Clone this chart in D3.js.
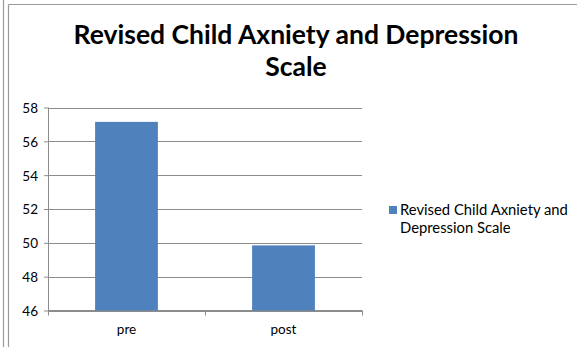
<!DOCTYPE html>
<html>
<head>
<meta charset="utf-8">
<script src="https://cdn.jsdelivr.net/npm/d3@7/dist/d3.min.js"></script>
<style>
  html, body { margin: 0; padding: 0; background: #fff; }
  svg { display: block; }
  text { font-family: Lato, "Open Sans", "DejaVu Sans", sans-serif; fill: #000; }
</style>
</head>
<body>
<svg id="chart" width="577" height="347"></svg>
<script>
// Chart data
const categories = ["pre", "post"];
const seriesName = "Revised Child Axniety and Depression Scale";
const seriesValues = [57.15, 49.85];
const yTicks = [46, 48, 50, 52, 54, 56, 58];
const titleLines = ["Revised Child Axniety and Depression", "Scale"];
const legendLines = ["Revised Child Axniety and", "Depression Scale"];

const svg = d3.select("#chart");
const W = 577, H = 347;
const plot = { left: 48, right: 362, top: 107.5, bottom: 310.5 };
const barColor = "#4F81BD";
const gridColor = "#8c8c8c";

// fit a text element's font size so that it spans a given width
function fitWidth(sel, target) {
  const node = sel.node();
  const fs = parseFloat(sel.attr("font-size"));
  const w = node.getComputedTextLength();
  if (w > 0) sel.attr("font-size", (fs * target / w).toFixed(2));
}

// page frame lines
svg.append("line").attr("x1", 3.5).attr("x2", 3.5).attr("y1", 0).attr("y2", H)
  .attr("stroke", "#9a9a9a").attr("stroke-width", 1.2);
svg.append("line").attr("x1", 8.5).attr("x2", 8.5).attr("y1", 4.5).attr("y2", H)
  .attr("stroke", "#9a9a9a").attr("stroke-width", 1.2);
svg.append("line").attr("x1", 8.5).attr("x2", W).attr("y1", 4.5).attr("y2", 4.5)
  .attr("stroke", "#9a9a9a").attr("stroke-width", 1.2);

// caption glyph cut off at the top edge
svg.append("text").attr("x", 42).attr("y", -3).attr("font-size", 16)
  .attr("font-weight", "bold").text("g");

// scales
const x = d3.scaleBand().domain(categories).range([plot.left, plot.right])
  .paddingInner(0.6).paddingOuter(0.3);
const y = d3.scaleLinear().domain([46, 58]).range([plot.bottom, plot.top]);

// horizontal gridlines
svg.append("g").selectAll("line").data(yTicks).join("line")
  .attr("x1", plot.left).attr("x2", plot.right)
  .attr("y1", d => Math.round(y(d)) + 0.5).attr("y2", d => Math.round(y(d)) + 0.5)
  .attr("stroke", gridColor).attr("stroke-width", 1);

// y axis
const yAxis = svg.append("g").attr("transform", `translate(${plot.left},0)`)
  .call(d3.axisLeft(y).tickValues(yTicks).tickSize(4).tickPadding(6).tickFormat(d3.format("d")));
yAxis.select(".domain").attr("stroke", gridColor).attr("d", `M0.5,${plot.top}V${plot.bottom}`);
yAxis.selectAll(".tick line").attr("stroke", gridColor);
yAxis.selectAll(".tick text").attr("font-size", 13.5).attr("font-family", "Lato, sans-serif")
  .attr("fill", "#000").attr("dy", "0.36em");

// x axis with boundary tick marks between categories
const xAxis = svg.append("g").attr("transform", `translate(0,${plot.bottom})`);
xAxis.append("line").attr("x1", plot.left).attr("x2", plot.right).attr("y1", 0).attr("y2", 0)
  .attr("stroke", gridColor);
const step = (plot.right - plot.left) / categories.length;
const bounds = d3.range(categories.length + 1).map(i => plot.left + i * step);
xAxis.selectAll("line.bt").data(bounds).join("line").attr("class", "bt")
  .attr("x1", d => Math.round(d) + 0.5).attr("x2", d => Math.round(d) + 0.5)
  .attr("y1", 0).attr("y2", 5).attr("stroke", gridColor);
xAxis.selectAll("text").data(categories).join("text")
  .attr("x", d => x(d) + x.bandwidth() / 2).attr("y", 23.5)
  .attr("text-anchor", "middle").attr("font-size", 13.5).text(d => d);

// bars
svg.append("g").selectAll("rect").data(categories).join("rect")
  .attr("x", d => x(d)).attr("width", x.bandwidth())
  .attr("y", (d, i) => y(seriesValues[i]))
  .attr("height", (d, i) => y(46) - y(seriesValues[i]))
  .attr("fill", barColor);

// title
const t1 = svg.append("text").attr("x", 296).attr("y", 43.5).attr("text-anchor", "middle")
  .attr("font-weight", "bold").attr("font-size", 24).text(titleLines[0]);
fitWidth(t1, 445);
svg.append("text").attr("x", 296).attr("y", 75.5).attr("text-anchor", "middle")
  .attr("font-weight", "bold").attr("font-size", t1.attr("font-size")).text(titleLines[1]);

// legend
const lg = svg.append("g").attr("aria-label", seriesName);
lg.append("rect").attr("x", 389).attr("y", 206).attr("width", 8).attr("height", 8).attr("fill", barColor);
const l1 = lg.append("text").attr("x", 400).attr("y", 215).attr("font-size", 13).text(legendLines[0]);
fitWidth(l1, 168);
lg.append("text").attr("x", 400).attr("y", 232.5).attr("font-size", l1.attr("font-size")).text(legendLines[1]);
</script>
</body>
</html>
